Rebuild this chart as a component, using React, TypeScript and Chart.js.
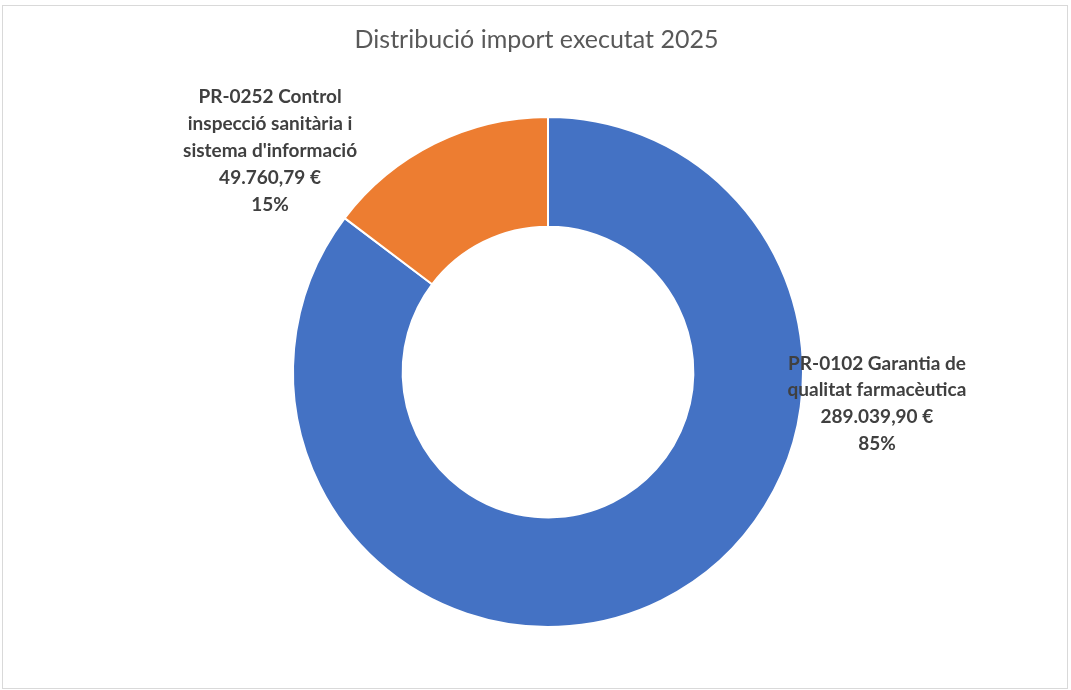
import React, { useEffect, useRef } from "react";
import { Chart, registerables } from "chart.js";

Chart.register(...registerables);

const TITLE = "Distribució import executat 2025";
const CATEGORY_LINES: string[][] = [
  ["PR-0102 Garantia de", "qualitat farmacèutica"],
  ["PR-0252 Control", "inspecció sanitària i", "sistema d'informació"],
];
const CATEGORIES = CATEGORY_LINES.map((l) => l.join(" "));
const VALUES = [289039.9, 49760.79];
const COLORS = ["#4472C4", "#ED7D31"];
// label anchor offsets, in units of the outer radius, relative to the doughnut centre
const LABEL_OFFSETS = [
  [1.29, 0.124],
  [-1.09, -0.867],
];

function formatEuro(v: number): string {
  const [intPart, dec] = v.toFixed(2).split(".");
  const grouped = intPart.replace(/\B(?=(\d{3})+(?!\d))/g, ".");
  return `${grouped},${dec}\u202f€`;
}

const FONT = "Lato, 'Open Sans', sans-serif";

const labelPlugin = {
  id: "excelLabels",
  afterDatasetsDraw(chart: any) {
    const meta = chart.getDatasetMeta(0);
    const ctx = chart.ctx as CanvasRenderingContext2D;
    const total = VALUES.reduce((a, b) => a + b, 0);
    ctx.save();
    // title
    ctx.font = `25px ${FONT}`;
    ctx.fillStyle = "#595959";
    ctx.textAlign = "center";
    ctx.textBaseline = "middle";
    ctx.fillText(TITLE, 536.5, 40);
    // data labels
    ctx.font = `bold 19px ${FONT}`;
    ctx.fillStyle = "#404040";
    meta.data.forEach((arc: any, i: number) => {
      const R = arc.outerRadius;
      const ax = arc.x + LABEL_OFFSETS[i][0] * R;
      const ay = arc.y + LABEL_OFFSETS[i][1] * R;
      const lines = [
        ...CATEGORY_LINES[i],
        formatEuro(VALUES[i]),
        `${Math.round((VALUES[i] / total) * 100)}%`,
      ];
      const lh = 26.8;
      const startY = ay - ((lines.length - 1) * lh) / 2;
      lines.forEach((t, k) => ctx.fillText(t, ax, startY + k * lh));
    });
    ctx.restore();
  },
};

export default function App() {
  const ref = useRef<HTMLCanvasElement | null>(null);
  useEffect(() => {
    document.body.style.margin = "0";
    const chart = new Chart(ref.current as HTMLCanvasElement, {
      type: "doughnut",
      data: {
        labels: CATEGORIES,
        datasets: [
          {
            data: VALUES,
            backgroundColor: COLORS,
            borderColor: "#ffffff",
            borderWidth: 2,
          },
        ],
      },
      options: {
        animation: false,
        responsive: false,
        cutout: "57%",
        layout: { padding: { top: 116, bottom: 62, left: 291, right: 266 } },
        plugins: {
          legend: { display: false },
          tooltip: { enabled: false },
          title: { display: false },
        },
      },
      plugins: [labelPlugin],
    });
    return () => chart.destroy();
  }, []);
  return (
    <div style={{ position: "relative", width: 1071, height: 690, background: "#fff" }}>
      <div
        style={{
          position: "absolute",
          left: 2,
          top: 5,
          width: 1064,
          height: 682,
          border: "1px solid #d9d9d9",
        }}
      />
      <canvas
        ref={ref}
        width={1071}
        height={690}
        style={{ position: "absolute", left: 0, top: 0, width: 1071, height: 690 }}
      />
    </div>
  );
}
